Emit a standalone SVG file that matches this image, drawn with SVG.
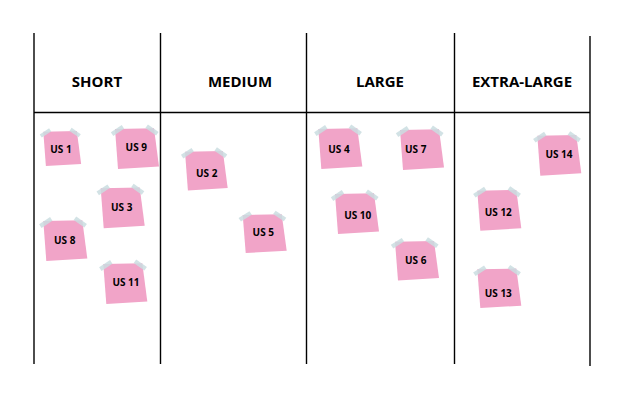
<svg xmlns="http://www.w3.org/2000/svg" xmlns:xlink="http://www.w3.org/1999/xlink" width="624" height="400" viewBox="0 0 624 400">
<style>
.ln{stroke:#000;stroke-width:1.4;fill:none}
.hd{font-family:"Open Sans","Liberation Sans",sans-serif;font-weight:bold;font-size:15px;fill:#000;text-anchor:middle}
.lb{font-family:"Open Sans","Liberation Sans",sans-serif;font-weight:bold;font-size:10px;fill:#000;text-anchor:middle}
.pk{fill:#f1a4c8}
.tp{fill:#cadde1;opacity:0.85}
</style>
<defs>
<g id="note">
<polygon class="pk" points="0,0 39,-0.7 44,37.5 3,40"/>
<rect class="tp" x="-6.5" y="-2.2" width="13" height="4.4" transform="translate(2.5,1.5) rotate(-33)"/>
<rect class="tp" x="-6.5" y="-2.2" width="13" height="4.4" transform="translate(37,1) rotate(35)"/>
</g>
</defs>
<rect width="624" height="400" fill="#fff"/>
<g id="grid">
<line class="ln" x1="34" y1="33" x2="34" y2="364"/>
<line class="ln" x1="160.5" y1="33" x2="160.5" y2="364"/>
<line class="ln" x1="306.5" y1="33" x2="306.5" y2="364"/>
<line class="ln" x1="454.5" y1="33" x2="454.5" y2="364"/>
<line class="ln" x1="590" y1="36" x2="590" y2="366"/>
<line class="ln" x1="34" y1="112.5" x2="590" y2="112.5"/>
</g>
<g id="headers">
<text class="hd" x="97" y="87">SHORT</text>
<text class="hd" x="240" y="87">MEDIUM</text>
<text class="hd" x="380" y="87">LARGE</text>
<text class="hd" x="522" y="87">EXTRA-LARGE</text>
</g>
<g id="us1"><use xlink:href="#note" transform="translate(43.3,131.7) scale(0.86)"/><text class="lb" x="61" y="152.8">US 1</text></g>
<g id="us9"><use xlink:href="#note" transform="translate(115,129)"/><text class="lb" x="136.3" y="151.2">US 9</text></g>
<g id="us3"><use xlink:href="#note" transform="translate(100.7,188.3)"/><text class="lb" x="121.7" y="210.5">US 3</text></g>
<g id="us8"><use xlink:href="#note" transform="translate(43.3,221)"/><text class="lb" x="64.7" y="243.5">US 8</text></g>
<g id="us11"><use xlink:href="#note" transform="translate(103.3,264)"/><text class="lb" x="126" y="285.8">US 11</text></g>
<g id="us2"><use xlink:href="#note" transform="translate(185,151.7) scale(0.97)"/><text class="lb" x="206.7" y="176.8">US 2</text></g>
<g id="us5"><use xlink:href="#note" transform="translate(242.7,215) scale(1,0.95)"/><text class="lb" x="263.3" y="235.5">US 5</text></g>
<g id="us4"><use xlink:href="#note" transform="translate(318.3,129)"/><text class="lb" x="339" y="152.8">US 4</text></g>
<g id="us7"><use xlink:href="#note" transform="translate(400,130)"/><text class="lb" x="415.7" y="153.2">US 7</text></g>
<g id="us10"><use xlink:href="#note" transform="translate(335,194)"/><text class="lb" x="357.7" y="218.8">US 10</text></g>
<g id="us6"><use xlink:href="#note" transform="translate(395,241.7) scale(1,0.97)"/><text class="lb" x="415.7" y="263.8">US 6</text></g>
<g id="us14"><use xlink:href="#note" transform="translate(537.3,135.7)"/><text class="lb" x="559" y="158.2">US 14</text></g>
<g id="us12"><use xlink:href="#note" transform="translate(477.3,190.7)"/><text class="lb" x="498.3" y="215.5">US 12</text></g>
<g id="us13"><use xlink:href="#note" transform="translate(477.3,269.3) scale(1,0.97)"/><text class="lb" x="498.3" y="296.8">US 13</text></g>
</svg>
